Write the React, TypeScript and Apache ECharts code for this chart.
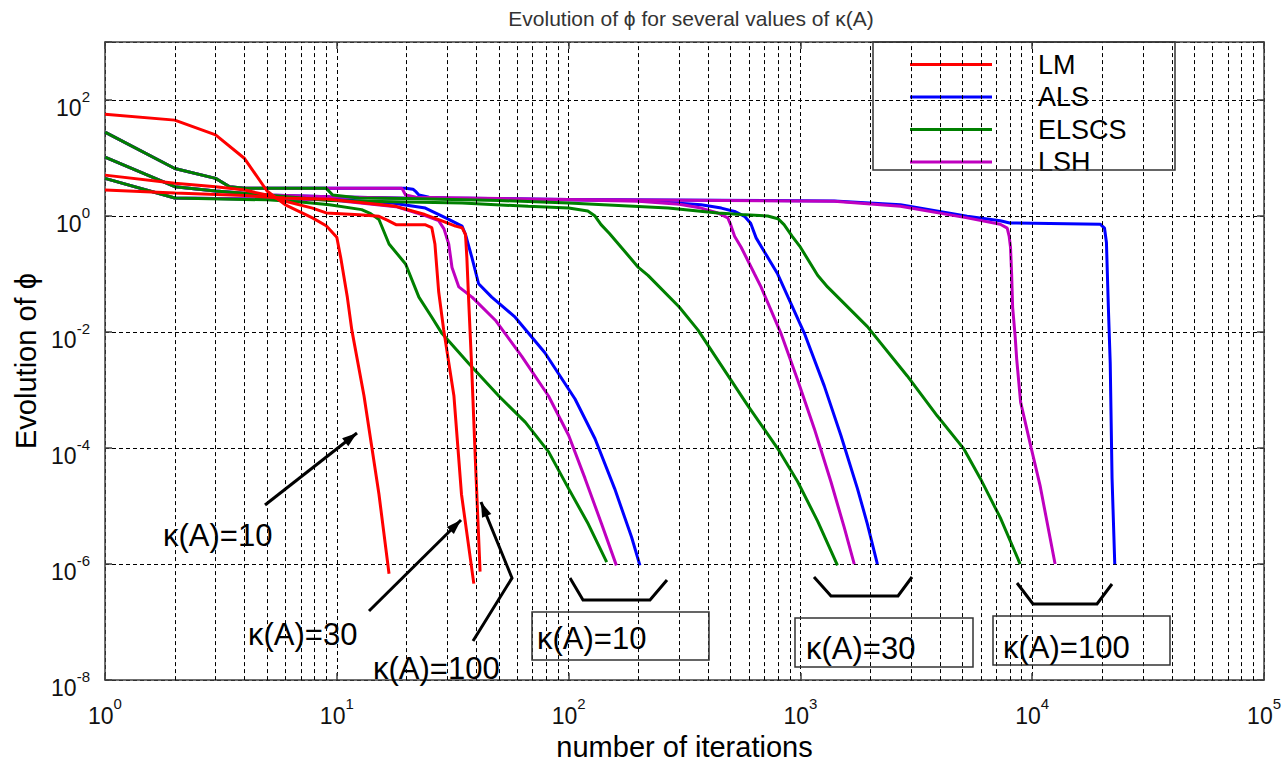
import React, { useEffect, useRef } from 'react';
import * as echarts from 'echarts';

const FONT = "'Liberation Sans', Arial, Helvetica, sans-serif";

// ---- data (iterations, phi) ----
const lm10 = [[1,57],[2,45],[3,25],[4,9.8],[5,2.7],[6,1.56],[7.85,0.93],[9,0.68],[10,0.43],[10.4,0.19],[11.1,0.04],[11.6,0.011],[13.1,8e-4],[15.2,1.6e-5],[16.8,6.8e-7]];
const lm30 = [[1,5.07],[2,3.66],[3,3.2],[4,2.8],[5,2.3],[6,1.8],[7.85,1.37],[9,1.13],[12.5,1.05],[15.2,0.99],[16.5,0.85],[18,0.71],[24,0.71],[25.7,0.63],[26.5,0.33],[27.5,0.05],[28.9,0.011],[32,8e-4],[34.5,1.6e-5],[39,4.6e-7]];
const lm100 = [[1,2.8],[2,2.5],[4,2.25],[6,2.05],[9.3,1.95],[18,1.47],[24,1.06],[27.5,0.87],[29.9,0.76],[32.5,0.67],[34.7,0.63],[35.9,0.48],[36.4,0.19],[37,0.04],[38.1,3e-3],[39.6,6.3e-5],[41.5,7.4e-7]];

const als10 = [[1,4.46],[2,2.04],[5,1.95],[10,1.92],[17.3,1.67],[24.1,1.37],[29.5,0.93],[34.7,0.67],[35.9,0.48],[38.3,0.19],[40.9,0.068],[46.6,0.04],[58.8,0.018],[79,4.4e-3],[106.6,7e-4],[130,1.45e-4],[158,2e-5],[187,2.9e-6],[203,9.5e-7]];
const als30 = [[1,10.4],[2,3.2],[3,2.7],[5,2.3],[9.3,2.15],[20,2.03],[50,1.96],[100,1.9],[200,1.85],[373,1.57],[456,1.37],[520,1.2],[574,0.99],[610,0.75],[644,0.42],[700,0.24],[798,0.1],[1040,0.0095],[1267,1.18e-3],[1494,1.66e-4],[1762,2e-5],[1945,4.9e-6],[2148,1e-6]];
const als100 = [[1,28],[2,6.6],[3,4.46],[3.45,3.2],[4,3.0],[19.8,3.0],[21.3,2.9],[22,2.6],[22.6,2.3],[25,2.1],[30,2.05],[100,1.93],[1400,1.82],[2700,1.57],[5240,0.99],[7280,0.83],[8000,0.76],[19700,0.72],[20500,0.62],[20900,0.35],[21300,0.027],[21700,2.9e-3],[22100,3e-5],[22700,1e-6]];

const elscs10 = [[1,4.46],[2,2.04],[5,1.9],[7,1.75],[9.3,1.57],[12.8,1.29],[14,1.1],[15.2,0.87],[16.8,0.33],[19.8,0.149],[22.6,0.04],[25.7,0.018],[28.4,0.0095],[37,0.0029],[50,7.9e-4],[65,2.8e-4],[82,8.6e-5],[100,2.0e-5],[121.6,4.9e-6],[146,1.08e-6]];
const elscs30 = [[1,10.4],[2,3.2],[3,2.7],[5,2.3],[9.3,1.85],[20,1.75],[34.7,1.67],[67,1.47],[100,1.37],[121,1.22],[130,1.0],[138,0.71],[150,0.5],[164,0.33],[200,0.13],[220,0.095],[300,0.027],[361,0.0109],[501,1.5e-3],[593,5.4e-4],[798,9.8e-5],[972,2.65e-5],[1186,5.5e-6],[1445,9.5e-7]];
const elscs100 = [[1,28],[2,6.6],[3,4.46],[3.45,3.2],[4,3.0],[9,3.0],[9.6,2.3],[12.5,2.05],[20,2.0],[50,1.85],[100,1.67],[269,1.37],[440,1.13],[555,1.06],[722,1.0],[800,0.9],[850,0.71],[920,0.45],[1000,0.29],[1186,0.095],[1309,0.06],[1945,0.0124],[2890,1.75e-3],[3890,3.6e-4],[5060,9.8e-5],[5970,3e-5],[7280,6.3e-6],[8870,1e-6]];

const lsh10 = [[1,4.46],[2,2.04],[5,1.95],[9.3,1.9],[18,1.45],[24,1.02],[27.5,0.83],[29,0.6],[30.4,0.33],[31.4,0.13],[33.6,0.06],[38.3,0.04],[48.3,0.016],[62.8,3.8e-3],[81.9,7.9e-4],[100,1.66e-4],[117.7,3e-5],[138.8,4.9e-6],[160.7,9.5e-7]];
const lsh30 = [[1,10.4],[2,3.2],[3,2.7],[5,2.3],[9.3,2.15],[20,2.02],[50,1.95],[100,1.9],[200,1.8],[300,1.6],[373,1.37],[440,1.13],[486,0.93],[500,0.71],[520,0.45],[555,0.29],[634,0.1],[676,0.06],[824,0.0095],[972,1.5e-3],[1148,2.16e-4],[1353,2.65e-5],[1545,4.3e-6],[1707,1e-6]];
const lsh100 = [[1,28],[2,6.6],[3,4.46],[3.45,3.2],[4,3.0],[19.1,3.0],[19.8,2.3],[22,2.1],[50,2.0],[100,1.92],[1400,1.8],[2700,1.47],[5240,0.93],[7280,0.72],[7800,0.62],[7950,0.45],[8060,0.29],[8150,0.1],[8230,0.027],[8440,8.4e-3],[8570,3.4e-3],[8910,6.2e-4],[9900,1e-4],[10800,2.3e-5],[12550,1e-6]];

const legendNames = ['LM', 'ALS', 'ELSCS', 'LSH'];
const colors: Record<string, string> = { LM: '#ff0000', ALS: '#0000ff', ELSCS: '#008000', LSH: '#bf00bf' };
const minorMultipliers = [2, 3, 4, 5, 6, 7, 8, 9];
const decades = [1, 10, 100, 1000, 10000];
const kappaLabels = ['κ(A)=10', 'κ(A)=30', 'κ(A)=100'];

function arrowHead(x1: number, y1: number, x2: number, y2: number, len = 15, half = 5) {
  const dx = x2 - x1, dy = y2 - y1;
  const L = Math.sqrt(dx * dx + dy * dy);
  const ux = dx / L, uy = dy / L;
  const bx = x2 - ux * len, by = y2 - uy * len;
  const nx = -uy, ny = ux;
  return {
    type: 'polygon',
    shape: { points: [[x2, y2], [bx + nx * half, by + ny * half], [bx - nx * half, by - ny * half]] },
    style: { fill: '#000' },
    z: 100,
  };
}

export default function App() {
  const ref = useRef<HTMLDivElement>(null);
  useEffect(() => {
    const chart = echarts.init(ref.current!, null, { renderer: 'svg' });

    const mk = (name: string, data: number[][]) => ({
      name,
      type: 'line',
      data,
      showSymbol: false,
      symbol: 'none',
      lineStyle: { color: colors[name], width: 3 },
      itemStyle: { color: colors[name] },
      xAxisIndex: 0,
      yAxisIndex: 0,
      z: 3,
      silent: true,
    });

    const minorLines: any[] = [];
    decades.forEach((d) => minorMultipliers.forEach((m) => minorLines.push({ xAxis: d * m })));

    const rich = {
      b: { fontSize: 23, fontFamily: FONT, color: '#111', lineHeight: 31, verticalAlign: 'bottom' },
      s: { fontSize: 15, fontFamily: FONT, color: '#111', lineHeight: 15, verticalAlign: 'top' },
    };
    const expLabel = (v: number) => {
      const e = Math.round(Math.log10(v));
      return `{b|10}{s|${e}}`;
    };

    const dash = { type: [4, 3] as any, color: '#000', width: 1 };
    const axisLineStyle = { color: '#404040', width: 1.5 };

    const txt = (text: string, x: number, y: number) => ({
      type: 'text',
      x,
      y,
      z: 100,
      style: { text, fontSize: 31, fontFamily: FONT, fill: '#000', align: 'left', verticalAlign: 'middle' },
    });
    const box = (x: number, y: number, w: number, h: number) => ({
      type: 'rect',
      shape: { x, y, width: w, height: h },
      style: { fill: 'none', stroke: '#333', lineWidth: 1.5 },
      z: 100,
    });
    const poly = (pts: number[][]) => ({
      type: 'polyline',
      shape: { points: pts },
      style: { stroke: '#000', lineWidth: 3, fill: 'none' },
      z: 100,
    });

    const graphics: any[] = [
      box(873, 42, 302, 128),
      txt(kappaLabels[0], 163, 535),
      poly([[265, 505], [357, 433]]),
      arrowHead(265, 505, 357, 433),
      txt(kappaLabels[1], 248, 634),
      poly([[369, 611], [461, 520]]),
      arrowHead(369, 611, 461, 520),
      txt(kappaLabels[2], 373, 668),
      poly([[473, 641], [512, 578], [481, 502]]),
      arrowHead(512, 578, 481, 502),
      poly([[570, 578], [583, 600], [650, 600], [667, 580]]),
      poly([[814, 577], [831, 596], [898, 596], [912, 577]]),
      poly([[1017, 583], [1033, 604], [1097, 604], [1112, 584]]),
      box(532, 612, 177, 48),
      box(795, 618, 178, 49),
      box(993, 616, 177, 49),
      txt(kappaLabels[0], 537, 638),
      txt(kappaLabels[1], 806, 648),
      txt(kappaLabels[2], 1003, 647),
    ];

    const option: any = {
      animation: false,
      backgroundColor: '#fff',
      title: {
        text: 'Evolution of ϕ for several values of κ(A)',
        left: 686,
        textAlign: 'center',
        top: 3,
        textStyle: { fontSize: 21, fontWeight: 'normal', fontFamily: FONT, color: '#333' },
      },
      grid: { left: 105, right: 16, top: 42, bottom: 78, containLabel: false },
      legend: {
        data: legendNames,
        orient: 'vertical',
        left: 910,
        top: 51,
        padding: 0,
        itemWidth: 82,
        itemHeight: 3,
        itemGap: 5.5,
        icon: 'rect',
        selectedMode: false,
        textStyle: { fontSize: 27, fontFamily: FONT, color: '#000', lineHeight: 25, padding: [0, 0, 0, 41] },
      },
      xAxis: [
        {
          type: 'log',
          logBase: 10,
          min: 1,
          max: 100000,
          name: 'number of iterations',
          nameLocation: 'middle',
          nameGap: 47,
          nameTextStyle: { fontSize: 29, fontFamily: FONT, color: '#000' },
          axisLine: { show: true, onZero: false, lineStyle: axisLineStyle },
          axisTick: { show: true, inside: true, length: 7, lineStyle: axisLineStyle },
          axisLabel: { formatter: expLabel, rich, margin: 16 },
          splitLine: { show: true, lineStyle: dash },
        },
        {
          type: 'log',
          logBase: 10,
          min: 1,
          max: 100000,
          position: 'top',
          axisLine: { show: true, onZero: false, lineStyle: axisLineStyle },
          axisTick: { show: true, inside: true, length: 7, lineStyle: axisLineStyle },
          axisLabel: { show: false },
          splitLine: { show: false },
        },
      ],
      yAxis: [
        {
          type: 'log',
          logBase: 100,
          min: 1e-8,
          max: 1e3,
          name: 'Evolution of ϕ',
          nameLocation: 'middle',
          nameGap: 60,
          nameTextStyle: { fontSize: 29, fontFamily: FONT, color: '#000' },
          axisLine: { show: true, onZero: false, lineStyle: axisLineStyle },
          axisTick: { show: true, inside: true, length: 7, lineStyle: axisLineStyle },
          axisLabel: {
            formatter: (v: number) => {
              const e = Math.round(Math.log10(v));
              return e % 2 === 0 ? expLabel(v) : '';
            },
            rich,
            margin: 15,
            padding: [8, 0, 0, 0],
          },
          splitLine: { show: true, lineStyle: dash },
        },
        {
          type: 'log',
          logBase: 100,
          min: 1e-8,
          max: 1e3,
          position: 'right',
          axisLine: { show: true, onZero: false, lineStyle: axisLineStyle },
          axisTick: { show: true, inside: true, length: 7, lineStyle: axisLineStyle },
          axisLabel: { show: false },
          splitLine: { show: false },
        },
      ],
      series: [
        {
          name: 'grid-minor',
          type: 'line',
          data: [],
          z: 1,
          silent: true,
          markLine: {
            silent: true,
            symbol: 'none',
            label: { show: false },
            lineStyle: dash,
            data: minorLines,
            animation: false,
          },
        },
        mk('ALS', als10), mk('ALS', als30), mk('ALS', als100),
        mk('LSH', lsh10), mk('LSH', lsh30), mk('LSH', lsh100),
        mk('ELSCS', elscs10), mk('ELSCS', elscs30), mk('ELSCS', elscs100),
        mk('LM', lm10), mk('LM', lm30), mk('LM', lm100),
      ],
      graphic: graphics,
    };

    chart.setOption(option);
    return () => chart.dispose();
  }, []);

  return <div ref={ref} style={{ position: 'fixed', left: 0, top: 0, width: 1284, height: 766 }} />;
}
